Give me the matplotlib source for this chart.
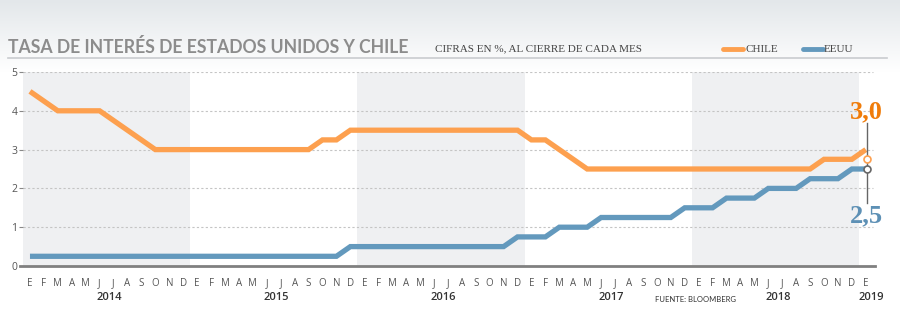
import numpy as np
import matplotlib
matplotlib.use("Agg")
import matplotlib.pyplot as plt
from matplotlib import font_manager

# Tasa de politica monetaria, cierre de cada mes (ene 2014 - ene 2019)
chile = [4.5, 4.25, 4.0, 4.0, 4.0, 4.0, 3.75, 3.5, 3.25, 3.0, 3.0, 3.0,
         3.0, 3.0, 3.0, 3.0, 3.0, 3.0, 3.0, 3.0, 3.0, 3.25, 3.25, 3.5,
         3.5, 3.5, 3.5, 3.5, 3.5, 3.5, 3.5, 3.5, 3.5, 3.5, 3.5, 3.5,
         3.25, 3.25, 3.0, 2.75, 2.5, 2.5, 2.5, 2.5, 2.5, 2.5, 2.5, 2.5,
         2.5, 2.5, 2.5, 2.5, 2.5, 2.5, 2.5, 2.5, 2.5, 2.75, 2.75, 2.75,
         3.0]
eeuu = [0.25] * 23 + [0.5] * 12 + [0.75, 0.75, 0.75, 1.0, 1.0, 1.0,
        1.25, 1.25, 1.25, 1.25, 1.25, 1.25, 1.5, 1.5, 1.5, 1.75, 1.75, 1.75,
        2.0, 2.0, 2.0, 2.25, 2.25, 2.25, 2.5, 2.5]
meses = ["E", "F", "M", "A", "M", "J", "J", "A", "S", "O", "N", "D"]
anios = [2014, 2015, 2016, 2017, 2018, 2019]
anios_sombra = [2014, 2016, 2018]
ultimo_chile = 3.0
ultimo_eeuu = 2.5

NARANJA = "#fda04f"
AZUL = "#6399bd"


def fuente(nombres):
    for n in nombres:
        try:
            font_manager.findfont(n, fallback_to_default=False)
            return n
        except Exception:
            pass
    return "DejaVu Sans"


f_titulo = fuente(["Lato", "Roboto", "DejaVu Sans"])
f_serif = fuente(["Liberation Serif", "DejaVu Serif"])
f_sans = fuente(["Open Sans", "Lato", "DejaVu Sans"])

fig = plt.figure(figsize=(9, 3.34), dpi=100)
fig.patch.set_facecolor("white")

# Franja superior con degradado
bg = fig.add_axes([0, 1 - 72 / 334, 1, 72 / 334])
grad = np.linspace(0, 1, 100).reshape(-1, 1)
bg.imshow(grad, aspect="auto", cmap=matplotlib.colors.LinearSegmentedColormap.from_list(
    "g", ["#ffffff", "#e3e7ea"]), extent=[0, 1, 0, 1], origin="lower")
bg.set_axis_off()

fig.add_artist(plt.Line2D([8 / 900, 887 / 900], [1 - 58 / 334] * 2,
                          color="#c9cccf", lw=1.2))

ax = fig.add_axes([23 / 900, (334 - 266) / 334, (875 - 23) / 900, (266 - 72) / 334])
ax.set_facecolor("none")
x = np.arange(len(chile))
ax.set_xlim(-0.5, 60.66)
ax.set_ylim(0, 5)

for a in anios_sombra:
    i = (a - 2014) * 12
    ax.axvspan(i - 0.5, i + 11.5, color="#eff0f2", lw=0, zorder=0)

for v in range(1, 6):
    ax.axhline(v, xmax=(60.5 + 0.5) / 61.16, color="#c4c4c4", lw=0.8,
               ls=(0, (2, 2)), zorder=1)

ax.plot(x, chile, color=NARANJA, lw=3.8, solid_joinstyle="miter",
        solid_capstyle="butt", zorder=3, clip_on=False)
ax.plot(x, eeuu, color=AZUL, lw=3.8, solid_joinstyle="miter",
        solid_capstyle="butt", zorder=3, clip_on=False)

# Marcadores y valores finales
ax.plot([60.05, 60.05], [1.62, 3.69], color="#666666", lw=1, zorder=4)
ax.plot(60.05, 2.75, "o", ms=5, mfc="white", mec=NARANJA, mew=1.2, zorder=5)
ax.plot(60.05, 2.5, "o", ms=5, mfc="white", mec="#666666", mew=1.2, zorder=5)
ax.text(60.05, 3.68, f"{ultimo_chile:.1f}".replace(".", ","), color="#f07c0a",
        fontsize=19, fontweight="bold", family=f_serif, ha="center", va="bottom")
ax.text(60.05, 1.58, f"{ultimo_eeuu:.1f}".replace(".", ","), color="#5d90b5",
        fontsize=19, fontweight="bold", family=f_serif, ha="center", va="top")

for s in ["top", "right", "left"]:
    ax.spines[s].set_visible(False)
ax.spines["bottom"].set_color("#808080")
ax.spines["bottom"].set_linewidth(2)
ax.spines["bottom"].set_bounds(-0.75, 60.66)

ax.set_yticks(range(6))
ax.set_yticklabels([str(v) for v in range(6)], family=f_sans, fontsize=7.5,
                   color="#555555")
ax.tick_params(axis="y", length=3, width=0.8, color="#888888", pad=1)

ax.set_xticks(x)
ax.set_xticklabels((meses * 6)[:len(x)], family=f_sans, fontsize=7,
                   color="#555555")
ax.tick_params(axis="x", length=0, pad=9)

for a in anios:
    pos = 60.4 if a == 2019 else (a - 2014) * 12 + 5.7
    ax.text(pos, -0.8, str(a), ha="center", va="center", fontsize=8,
            fontweight="semibold", family=f_sans, color="#333333")

fig.text(655 / 900, 1 - 299 / 334, "FUENTE: BLOOMBERG", fontsize=5.5,
         family=f_titulo, color="#333333", va="center")

fig.text(8 / 900, 1 - 47 / 334, "TASA DE INTERÉS DE ESTADOS UNIDOS Y CHILE",
         fontsize=12.7, fontweight="bold", family=f_titulo, color="#8c8c8c",
         va="center")
fig.text(435 / 900, 1 - 49 / 334, "CIFRAS EN %, AL CIERRE DE CADA MES",
         fontsize=8, family=f_serif, color="#444444", va="center")

fig.add_artist(plt.Line2D([723 / 900, 743 / 900], [1 - 49 / 334] * 2,
                          color=NARANJA, lw=3.5, solid_capstyle="round"))
fig.text(746 / 900, 1 - 49 / 334, "CHILE", fontsize=8, family=f_serif,
         color="#444444", va="center")
fig.add_artist(plt.Line2D([803 / 900, 823 / 900], [1 - 49 / 334] * 2,
                          color=AZUL, lw=3.5, solid_capstyle="round"))
fig.text(824 / 900, 1 - 49 / 334, "EEUU", fontsize=8, family=f_serif,
         color="#444444", va="center")

fig.savefig("out.png", dpi=100)
